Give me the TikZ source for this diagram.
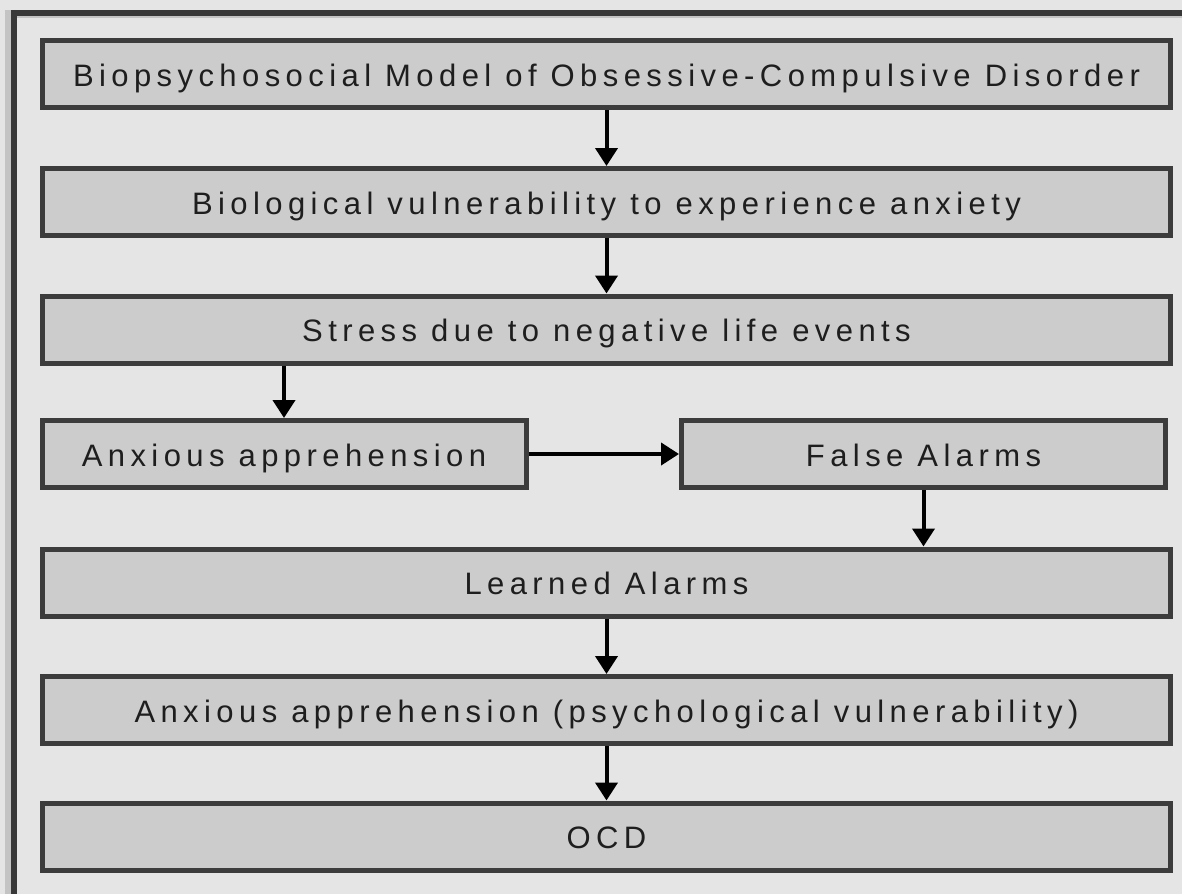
\documentclass[tikz,border=0pt]{standalone}
\usepackage{fontspec}
\setmainfont{Liberation Sans}
\newfontfamily\boxfont[LetterSpace=17.5]{Liberation Sans}
\usetikzlibrary{arrows.meta}
\definecolor{bgc}{HTML}{E5E5E5}
\definecolor{boxfill}{HTML}{CCCCCC}
\definecolor{boxline}{HTML}{3C3C3C}
\definecolor{framec}{HTML}{383838}
\definecolor{stripc}{HTML}{C4C4C4}
\definecolor{txt}{HTML}{1E1E1E}
\tikzset{
  stagebox/.style={draw=boxline, fill=boxfill, line width=5pt, inner sep=0pt,
    minimum height=67pt, text=txt, text height=27pt, text depth=3pt,
    font=\boxfont\fontsize{31}{36}\selectfont},
  widebox/.style={stagebox, minimum width=1128pt},
  halfbox/.style={stagebox, minimum width=484pt},
  flow/.style={line width=4pt, black, -{Triangle[width=22pt,length=18pt]}}
}
\begin{document}
\begin{tikzpicture}[x=1pt,y=-1pt]
\useasboundingbox (0,0) rectangle (1182,894);
\fill[bgc] (0,0) rectangle (1182,894);
\fill[stripc] (5,10) rectangle (11,894);
\draw[framec, line width=6pt] (14,894) -- (14,13) -- (1182,13);
\draw[stripc, line width=2pt] (17,17) -- (1182,17);

\node[widebox] (b1) at (606.5,74) {Biopsychosocial Model of Obsessive-Compulsive Disorder};
\node[widebox] (b2) at (606.5,202) {Biological vulnerability to experience anxiety};
\node[widebox] (b3) at (606.5,329.5) {Stress due to negative life events};
\node[halfbox] (b4) at (284,454) {Anxious apprehension};
\node[halfbox] (b5) at (923.5,454) {False Alarms};
\node[widebox] (b6) at (606.5,582.5) {Learned Alarms};
\node[widebox] (b7) at (606.5,710) {Anxious apprehension (psychological vulnerability)};
\node[widebox] (b8) at (606.5,836.5) {OCD};

\draw[flow] (b1.south) -- (b2.north);
\draw[flow] (b2.south) -- (b3.north);
\draw[flow] (b4.north |- b3.south) -- (b4.north);
\draw[flow] (b4.east) -- (b5.west);
\draw[flow] (b5.south) -- (b5.south |- b6.north);
\draw[flow] (b6.south) -- (b7.north);
\draw[flow] (b7.south) -- (b8.north);
\end{tikzpicture}
\end{document}
